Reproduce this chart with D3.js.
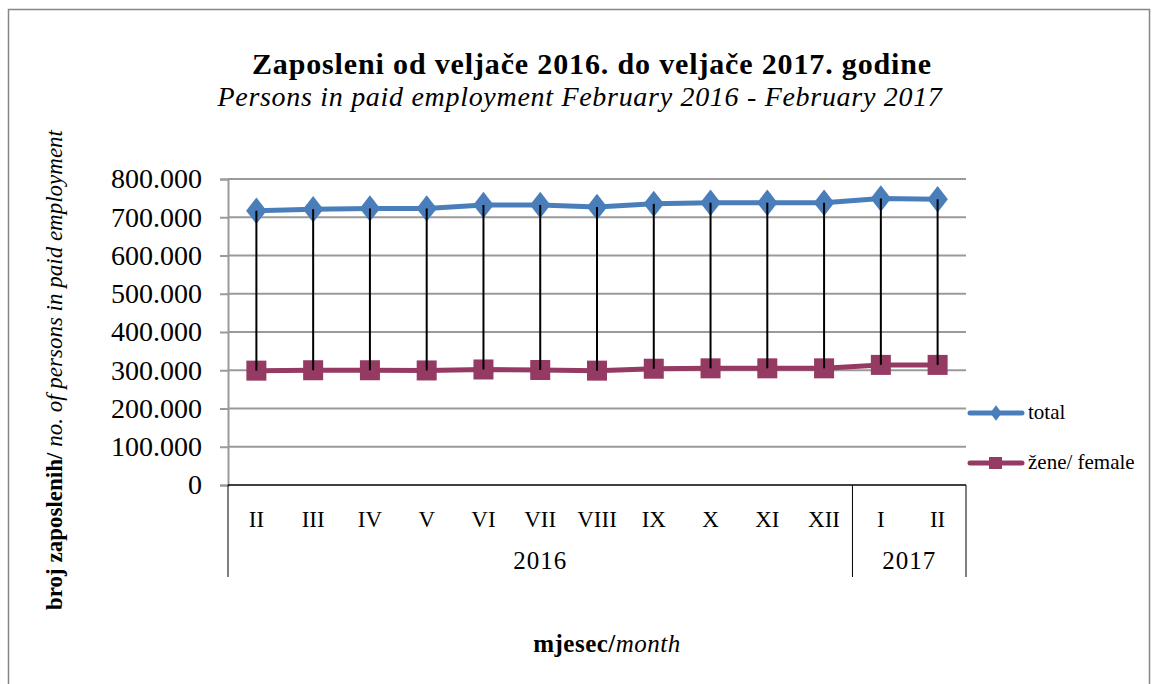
<!DOCTYPE html>
<html><head><meta charset="utf-8">
<script src="https://cdn.jsdelivr.net/npm/d3@7"></script>
<style>
html,body{margin:0;padding:0;background:#fff;}
svg text{font-family:"Liberation Serif","Times New Roman",serif;fill:#000;}
</style></head>
<body><svg id="c" width="1159" height="684"></svg>
<script>
const months = ["II","III","IV","V","VI","VII","VIII","IX","X","XI","XII","I","II"];
const years = [{label:"2016", from:0, to:10},{label:"2017", from:11, to:12}];
const total = [717000,721000,723000,723000,732000,732000,727000,735000,738000,738000,738000,749000,747000];
const female = [299000,300000,300000,299500,302000,300600,299000,304000,305000,305000,305000,314000,314000];
const yTicks = [0,100000,200000,300000,400000,500000,600000,700000,800000];
const seriesNames = ["total","žene/ female"];

const svg = d3.select("#c");
svg.append("rect").attr("x",8.5).attr("y",9.5).attr("width",1141).attr("height",700)
  .attr("fill","#fff").attr("stroke","#868686").attr("stroke-width",1.5);

const L=228,R=966,T=179,B=485;
const x = d3.scaleBand().domain(d3.range(months.length)).range([L,R]);
const y = d3.scaleLinear().domain([0,800000]).range([B,T]);
const fmt = v => v===0 ? "0" : d3.format(",")(v).replace(/,/g,".");
const cx = i => x(i)+x.bandwidth()/2;

// gridlines
svg.append("g").selectAll("line").data(yTicks.filter(d=>d>0)).join("line")
  .attr("x1",L).attr("x2",R).attr("y1",d=>y(d)).attr("y2",d=>y(d))
  .attr("stroke","#9a9a9a").attr("stroke-width",2);

// y axis
const ya = svg.append("g").attr("transform",`translate(${L},0)`)
  .call(d3.axisLeft(y).tickValues(yTicks).tickFormat(fmt).tickSize(8).tickPadding(18));
ya.select(".domain").attr("stroke","#9a9a9a").attr("stroke-width",2);
ya.selectAll(".tick line").attr("stroke","#9a9a9a").attr("stroke-width",2);
ya.selectAll(".tick text").attr("font-size",28).attr("font-family","Liberation Serif").attr("fill","#000");

// x axis line and category box
svg.append("line").attr("x1",L).attr("x2",R).attr("y1",B).attr("y2",B).attr("stroke","#000").attr("stroke-width",1.5);
const seps = [L, x(years[1].from), R];
svg.append("g").selectAll("line").data(seps).join("line")
  .attr("x1",d=>d).attr("x2",d=>d).attr("y1",B).attr("y2",577).attr("stroke","#000").attr("stroke-width",1);

svg.append("g").selectAll("text").data(months).join("text")
  .attr("x",(d,i)=>cx(i)).attr("y",527)
  .attr("text-anchor","middle").attr("font-size",23).text(d=>d);
svg.append("g").selectAll("text").data(years).join("text")
  .attr("x",d=>(x(d.from)+x(d.to)+x.bandwidth())/2).attr("y",569)
  .attr("text-anchor","middle").attr("font-size",25).attr("letter-spacing",1).text(d=>d.label);

const line = d3.line().x((d,i)=>cx(i)).y(d=>y(d));
const blue="#4a7ebb", plum="#953a62";
svg.append("path").datum(total).attr("d",line).attr("fill","none").attr("stroke",blue).attr("stroke-width",5);
svg.append("path").datum(female).attr("d",line).attr("fill","none").attr("stroke",plum).attr("stroke-width",5);

const diamond = d3.symbol().type(d3.symbolDiamond).size(200);
svg.append("g").selectAll("path").data(total).join("path")
  .attr("d",diamond).attr("transform",(d,i)=>`translate(${cx(i)},${y(d)}) scale(1.35,1)`).attr("fill",blue);
svg.append("g").selectAll("rect").data(female).join("rect")
  .attr("x",(d,i)=>cx(i)-10).attr("y",d=>y(d)-10).attr("width",20).attr("height",20).attr("fill",plum);
// high-low lines
svg.append("g").selectAll("line").data(total).join("line")
  .attr("x1",(d,i)=>cx(i)).attr("x2",(d,i)=>cx(i))
  .attr("y1",d=>y(d)).attr("y2",(d,i)=>y(female[i]))
  .attr("stroke","#000").attr("stroke-width",2);

// legend
const lg = svg.append("g");
const lgY=[413,463], cols=[blue,plum];
seriesNames.forEach((n,k)=>{
  lg.append("line").attr("x1",970).attr("x2",1022).attr("y1",lgY[k]).attr("y2",lgY[k])
    .attr("stroke",cols[k]).attr("stroke-width",5).attr("stroke-linecap","round");
  if(k===0) lg.append("path").attr("d",d3.symbol().type(d3.symbolDiamond).size(70)())
    .attr("transform",`translate(996,${lgY[k]}) scale(1.3,1)`).attr("fill",blue);
  else lg.append("rect").attr("x",989).attr("y",lgY[k]-6).attr("width",13).attr("height",12).attr("fill",plum);
  lg.append("text").attr("x",1028).attr("y",lgY[k]+6).attr("font-size",21).text(n);
});

// titles
svg.append("text").attr("x",592).attr("y",74).attr("text-anchor","middle")
  .attr("font-size",30).attr("letter-spacing",0.85).attr("font-weight","bold").text("Zaposleni od veljače 2016. do veljače 2017. godine");
svg.append("text").attr("x",580).attr("y",106).attr("text-anchor","middle")
  .attr("font-size",28).attr("letter-spacing",0.7).attr("font-style","italic").text("Persons in paid employment February 2016 - February 2017");

const yt = svg.append("text").attr("transform","translate(62,370) rotate(-90)").attr("text-anchor","middle").attr("font-size",23);
yt.append("tspan").attr("font-weight","bold").text("broj zaposlenih/ ");
yt.append("tspan").attr("font-style","italic").text("no. of  persons  in paid employment");

const xt = svg.append("text").attr("x",607).attr("y",652).attr("text-anchor","middle").attr("font-size",25).attr("letter-spacing",0.5);
xt.append("tspan").attr("font-weight","bold").text("mjesec/");
xt.append("tspan").attr("font-style","italic").text("month");
</script></body></html>
